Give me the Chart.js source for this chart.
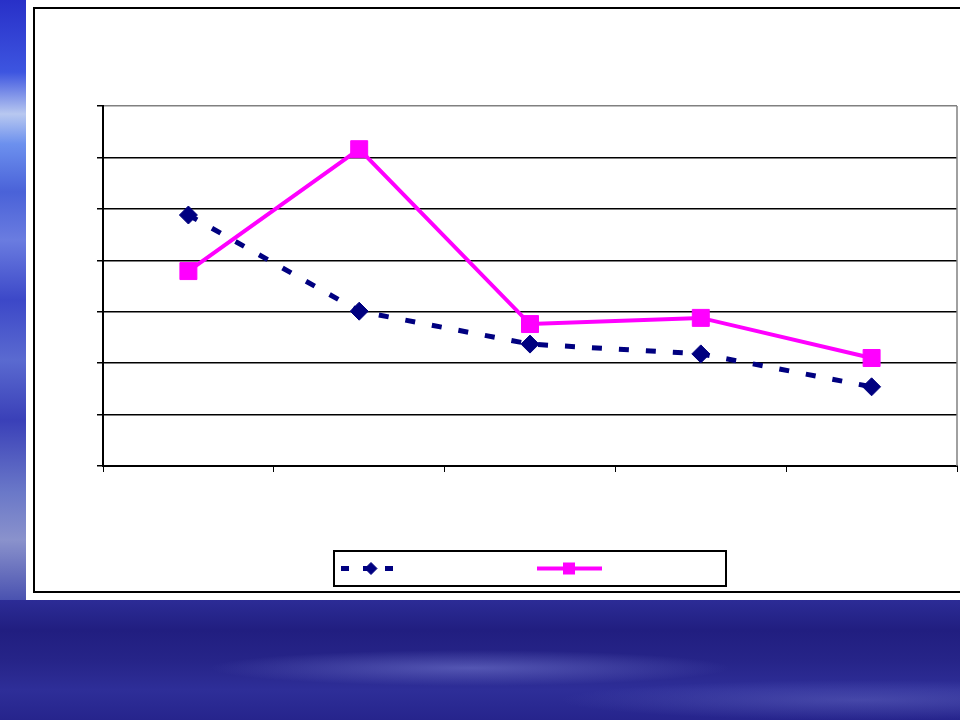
<!DOCTYPE html>
<html>
<head>
<meta charset="utf-8">
<script src="https://cdn.jsdelivr.net/npm/chart.js@4/dist/chart.umd.min.js"></script>
<style>
  html, body { margin: 0; padding: 0; }
  body { width: 960px; height: 720px; position: relative; overflow: hidden; background: #ffffff; font-family: "Liberation Sans", Arial, sans-serif; }
  #stripe {
    position: absolute; left: 0; top: 0; width: 26px; height: 600px;
    background: linear-gradient(to bottom, #2830c8 0%, #3d55e0 12%, #b8c8f0 19%, #6c90ee 24%, #4a62d8 32%, #6a7ce0 40%, #3c48c8 50%, #5a6ad0 60%, #3a40b8 70%, #6a78c8 82%, #8a92cc 90%, #4a52b0 100%);
  }
  #band {
    position: absolute; left: 0; top: 600px; width: 960px; height: 120px;
    background:
      radial-gradient(ellipse 260px 18px at 470px 68px, rgba(120,125,210,0.55), rgba(120,125,210,0) 100%),
      radial-gradient(ellipse 300px 20px at 860px 100px, rgba(110,115,200,0.4), rgba(110,115,200,0) 100%),
      linear-gradient(to bottom, #2c2c96 0%, #211e80 25%, #262488 50%, #2e2e98 75%, #26248c 100%);
  }
  #frame {
    position: absolute; left: 33px; top: 7px; width: 925px; height: 582px;
    border: 2px solid #000; background: #fff;
  }
  #wrap { position: absolute; left: 0; top: 0; width: 960px; height: 720px; }
</style>
</head>
<body>
<div id="stripe"></div>
<div id="band"></div>
<div id="frame"></div>
<div id="wrap"><canvas id="chart" width="960" height="720"></canvas></div>
<script>
// Data (no labels are printed on it)
const categories = ['1', '2', '3', '4', '5'];
const seriesA = [4.88, 3.01, 2.37, 2.18, 1.54];
const seriesB = [3.79, 6.16, 2.76, 2.88, 2.10];
const yTicks = [0, 1, 2, 3, 4, 5, 6, 7];

const navy = '#000080';
const magenta = '#ff00ff';

// Grey right edge of the plot area
const plotEdge = {
    id: 'plotEdge',
    afterDraw(chart) {
        const { ctx, chartArea } = chart;
        ctx.save();
        ctx.strokeStyle = '#808080';
        ctx.lineWidth = 1.5;
        ctx.beginPath();
        ctx.moveTo(chartArea.right, chartArea.top);
        ctx.lineTo(chartArea.right, chartArea.bottom);
        ctx.stroke();
        ctx.restore();
    }
};

// Legend box drawn from the dataset styles
const boxLegend = {
    id: 'boxLegend',
    afterDraw(chart) {
        const ctx = chart.ctx;
        const x0 = 334, y0 = 551, w = 392, h = 35;
        const cy = y0 + h / 2;
        ctx.save();
        ctx.strokeStyle = '#000';
        ctx.lineWidth = 2;
        ctx.strokeRect(x0, y0, w, h);

        // series A sample
        const a = chart.data.datasets[0];
        ctx.strokeStyle = a.borderColor;
        ctx.lineWidth = 5;
        ctx.setLineDash([8, 14]);
        ctx.beginPath();
        ctx.moveTo(341, cy);
        ctx.lineTo(404, cy);
        ctx.stroke();
        ctx.setLineDash([]);
        ctx.fillStyle = a.backgroundColor;
        ctx.strokeStyle = a.borderColor;
        ctx.lineWidth = 1;
        ctx.beginPath();
        ctx.moveTo(371, cy - 6); ctx.lineTo(377, cy); ctx.lineTo(371, cy + 6); ctx.lineTo(365, cy);
        ctx.closePath(); ctx.fill(); ctx.stroke();

        // series B sample
        const b = chart.data.datasets[1];
        ctx.strokeStyle = b.borderColor;
        ctx.lineWidth = 4;
        ctx.beginPath();
        ctx.moveTo(537, cy);
        ctx.lineTo(602, cy);
        ctx.stroke();
        ctx.fillStyle = b.backgroundColor;
        ctx.fillRect(563, cy - 6, 12, 12);
        ctx.restore();
    }
};

new Chart(document.getElementById('chart'), {
    type: 'line',
    data: {
        labels: categories,
        datasets: [{
            label: 'A',
            data: seriesA,
            borderColor: navy,
            backgroundColor: navy,
            borderWidth: 5,
            borderDash: [10, 17],
            borderCapStyle: 'butt',
            pointStyle: 'rectRot',
            pointRadius: 9,
            pointBorderWidth: 1,
            tension: 0
        }, {
            label: 'B',
            data: seriesB,
            borderColor: magenta,
            backgroundColor: magenta,
            borderWidth: 4,
            pointStyle: 'rect',
            pointRadius: 12,
            pointBorderWidth: 1,
            tension: 0
        }]
    },
    options: {
        responsive: false,
        animation: false,
        layout: {
            autoPadding: false,
            padding: { left: 97, top: 106, right: 3, bottom: 248 }
        },
        plugins: {
            legend: { display: false },
            tooltip: { enabled: false }
        },
        scales: {
            x: {
                offset: true,
                grid: {
                    offset: true,
                    drawOnChartArea: false,
                    drawTicks: true,
                    tickLength: 6,
                    tickColor: '#000',
                    tickWidth: 1
                },
                border: { color: '#000', width: 2 },
                ticks: { display: false }
            },
            y: {
                min: 0,
                max: 7,
                afterBuildTicks(scale) {
                    scale.ticks = yTicks.map(v => ({ value: v }));
                },
                grid: {
                    color: ctx => (ctx.tick && ctx.tick.value === 7 ? '#808080' : '#000'),
                    lineWidth: 1.5,
                    tickLength: 6,
                    tickColor: '#000'
                },
                border: { color: '#000', width: 2 },
                ticks: { display: false }
            }
        }
    },
    plugins: [plotEdge, boxLegend]
});
</script>
</body>
</html>
